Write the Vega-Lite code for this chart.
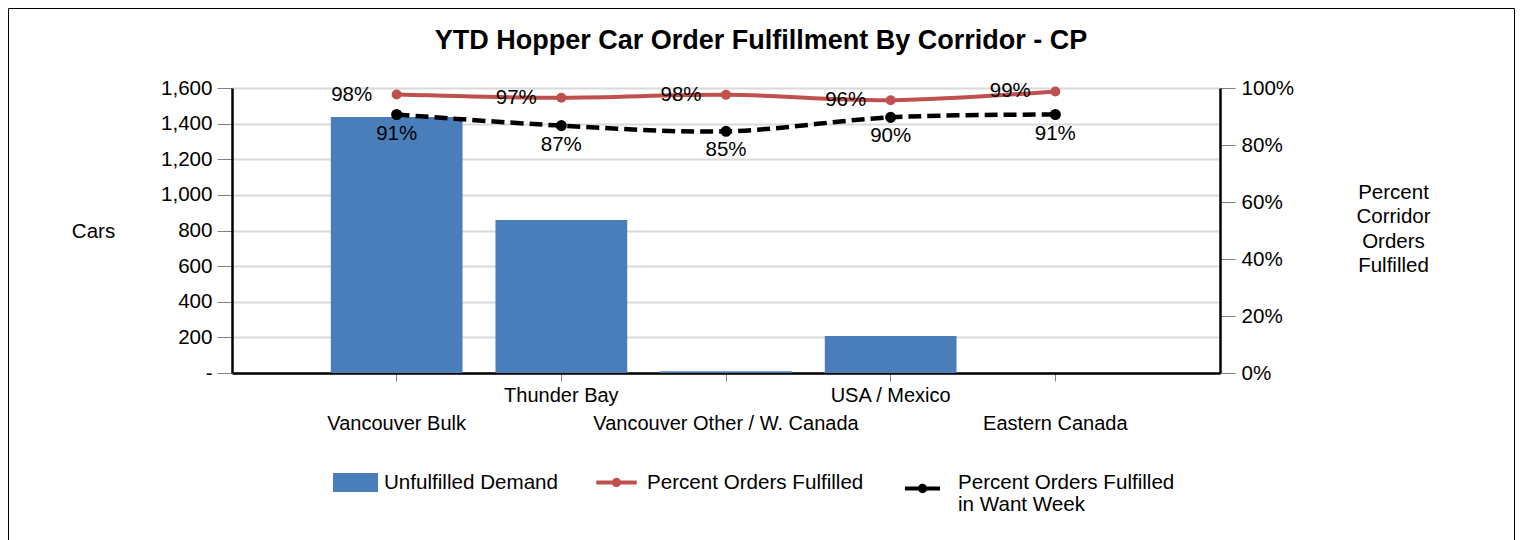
{
  "$schema": "https://vega.github.io/schema/vega-lite/v6.json",
  "width": 1506,
  "height": 532,
  "autosize": {"type": "none"},
  "padding": {"left": 8, "top": 8, "right": 13, "bottom": 0},
  "background": "white",
  "config": {
    "font": "Liberation Sans",
    "view": {"stroke": "black", "strokeWidth": 1}
  },
  "title": {
    "text": "YTD Hopper Car Order Fulfillment By Corridor - CP",
    "fontSize": 27,
    "fontWeight": "bold",
    "color": "black",
    "anchor": "middle",
    "frame": "group",
    "offset": -68,
    "baseline": "alphabetic"
  },
  "datasets": {
    "bars": [
      {"corridor": "Vancouver Bulk", "unfulfilled": 1437},
      {"corridor": "Thunder Bay", "unfulfilled": 859},
      {"corridor": "Vancouver Other / W. Canada", "unfulfilled": 10},
      {"corridor": "USA / Mexico", "unfulfilled": 208},
      {"corridor": "Eastern Canada", "unfulfilled": 0}
    ],
    "lines": [
      {"corridor": "Vancouver Bulk", "series": "Percent Orders Fulfilled", "value": 0.977},
      {"corridor": "Thunder Bay", "series": "Percent Orders Fulfilled", "value": 0.966},
      {"corridor": "Vancouver Other / W. Canada", "series": "Percent Orders Fulfilled", "value": 0.976},
      {"corridor": "USA / Mexico", "series": "Percent Orders Fulfilled", "value": 0.957},
      {"corridor": "Eastern Canada", "series": "Percent Orders Fulfilled", "value": 0.988},
      {"corridor": "Vancouver Bulk", "series": "Percent Orders Fulfilled in Want Week", "value": 0.907},
      {"corridor": "Thunder Bay", "series": "Percent Orders Fulfilled in Want Week", "value": 0.868},
      {"corridor": "Vancouver Other / W. Canada", "series": "Percent Orders Fulfilled in Want Week", "value": 0.848},
      {"corridor": "USA / Mexico", "series": "Percent Orders Fulfilled in Want Week", "value": 0.897},
      {"corridor": "Eastern Canada", "series": "Percent Orders Fulfilled in Want Week", "value": 0.907}
    ]
  },
  "encoding": {
    "x": {
      "field": "corridor",
      "type": "nominal",
      "scale": {
        "domain": ["Vancouver Bulk", "Thunder Bay", "Vancouver Other / W. Canada", "USA / Mexico", "Eastern Canada"],
        "range": [224, 1212],
        "paddingInner": 0.2,
        "paddingOuter": 0.6
      },
      "axis": {
        "title": null,
        "orient": "bottom",
        "offset": -167,
        "labelAngle": 0,
        "labelFontSize": 20,
        "labelColor": "black",
        "labelLimit": 500,
        "labelBaseline": "top",
        "labelLineHeight": 28,
        "labelPadding": 4,
        "labelExpr": "indexof(['Thunder Bay','USA / Mexico'], datum.value) >= 0 ? datum.label : ['', datum.label]",
        "tickSize": 8,
        "tickColor": "#808080",
        "tickWidth": 1,
        "domainColor": "black",
        "domainWidth": 2.5,
        "grid": false
      }
    }
  },
  "layer": [
    {
      "data": {"name": "bars"},
      "mark": {"type": "bar", "opacity": 1},
      "encoding": {
        "y": {
          "field": "unfulfilled",
          "type": "quantitative",
          "scale": {"domain": [0, 1600], "range": [365, 80], "nice": false, "zero": true},
          "axis": {
            "orient": "left",
            "offset": -224,
            "values": [0, 200, 400, 600, 800, 1000, 1200, 1400, 1600],
            "labelExpr": "datum.value == 0 ? '-' : format(datum.value, ',')",
            "labelFontSize": 20.6,
            "labelColor": "black",
            "labelPadding": 5,
            "tickSize": 15,
            "tickColor": "#808080",
            "tickWidth": 1,
            "domainColor": "black",
            "domainWidth": 2.5,
            "grid": true,
            "gridColor": "#d9d9d9",
            "gridWidth": 2,
            "title": "Cars",
            "titleFontSize": 20.5,
            "titleFontWeight": "normal",
            "titleColor": "black",
            "titleAngle": 0,
            "titleAlign": "center",
            "titleBaseline": "middle",
            "titleX": -139,
            "titleY": 223
          }
        },
        "color": {
          "datum": "Unfulfilled Demand",
          "type": "nominal",
          "scale": {"domain": ["Unfulfilled Demand"], "range": ["#4a7ebb"]},
          "legend": {
            "title": null,
            "orient": "none",
            "direction": "horizontal",
            "legendX": 325,
            "legendY": 452,
            "symbolType": "M-1,-0.42H1V0.42H-1Z",
            "symbolSize": 2025,
            "symbolStrokeWidth": 0,
            "labelFontSize": 20.6,
            "labelColor": "black",
            "labelOffset": 6,
            "labelLimit": 500
          }
        }
      }
    },
    {
      "data": {"name": "lines"},
      "encoding": {
        "y": {
          "field": "value",
          "type": "quantitative",
          "scale": {"domain": [0, 1], "range": [365, 80], "nice": false},
          "axis": {
            "orient": "right",
            "offset": -294,
            "values": [0, 0.2, 0.4, 0.6, 0.8, 1],
            "format": ".0%",
            "labelFontSize": 20.6,
            "labelColor": "black",
            "labelPadding": 6,
            "tickSize": 15,
            "tickColor": "#808080",
            "tickWidth": 1,
            "domainColor": "black",
            "domainWidth": 2.5,
            "grid": false,
            "title": ["Percent", "Corridor", "Orders", "Fulfilled"],
            "titleFontSize": 20.5,
            "titleFontWeight": "normal",
            "titleColor": "black",
            "titleAngle": 0,
            "titleAlign": "center",
            "titleBaseline": "middle",
            "titleLineHeight": 24.5,
            "titleX": 173,
            "titleY": 184
          }
        }
      },
      "layer": [
        {
          "transform": [{"filter": "datum.series == 'Percent Orders Fulfilled'"}],
          "mark": {"type": "line", "strokeWidth": 4, "interpolate": "catmull-rom"},
          "encoding": {
            "stroke": {
              "datum": "Percent Orders Fulfilled",
              "type": "nominal",
              "scale": {"domain": ["Percent Orders Fulfilled"], "range": ["#c0504d"]},
              "legend": {
                "title": null,
                "orient": "none",
                "direction": "horizontal",
                "legendX": 584,
                "legendY": 450,
                "symbolType": "M-0.9,0H0.9M0.12,0A0.12,0.12 0 1,1 -0.12,0A0.12,0.12 0 1,1 0.12,0",
                "symbolSize": 2025,
                "symbolStrokeWidth": 4,
                "labelFontSize": 20.6,
                "labelColor": "black",
                "labelOffset": 6,
                "labelLimit": 500
              }
            }
          }
        },
        {
          "transform": [{"filter": "datum.series == 'Percent Orders Fulfilled'"}],
          "mark": {"type": "point", "filled": true, "color": "#c0504d", "size": 100, "opacity": 1}
        },
        {
          "transform": [{"filter": "datum.series == 'Percent Orders Fulfilled'"}],
          "mark": {"type": "text", "fontSize": 20.5, "color": "black", "dx": -45, "dy": 0, "align": "center", "baseline": "middle"},
          "encoding": {"text": {"field": "value", "type": "quantitative", "format": ".0%"}}
        },
        {
          "transform": [{"filter": "datum.series == 'Percent Orders Fulfilled in Want Week'"}],
          "mark": {"type": "line", "color": "#000000", "strokeWidth": 4.5, "strokeDash": [13, 6], "interpolate": "catmull-rom"}
        },
        {
          "transform": [{"filter": "datum.series == 'Percent Orders Fulfilled in Want Week'"}],
          "mark": {"type": "point", "filled": true, "color": "#000000", "size": 50, "strokeWidth": 4, "opacity": 1},
          "encoding": {
            "stroke": {
              "datum": "Percent Orders Fulfilled in Want Week",
              "type": "nominal",
              "scale": {"domain": ["Percent Orders Fulfilled in Want Week"], "range": ["#000000"]},
              "legend": {
                "title": null,
                "orient": "none",
                "direction": "horizontal",
                "legendX": 890,
                "legendY": 456,
                "symbolType": "M-0.78,0H0.78M0.12,0A0.12,0.12 0 1,1 -0.12,0A0.12,0.12 0 1,1 0.12,0",
                "symbolSize": 2025,
                "symbolStrokeWidth": 4,
                "symbolOpacity": 1,
                "labelFontSize": 20.6,
                "labelColor": "black",
                "labelOffset": 11,
                "labelLimit": 500,
                "labelBaseline": "alphabetic",
                "labelExpr": "['Percent Orders Fulfilled', 'in Want Week']"
              }
            }
          }
        },
        {
          "transform": [{"filter": "datum.series == 'Percent Orders Fulfilled in Want Week'"}],
          "mark": {"type": "text", "fontSize": 20.5, "color": "black", "dx": 0, "dy": 19, "align": "center", "baseline": "middle"},
          "encoding": {"text": {"field": "value", "type": "quantitative", "format": ".0%"}}
        }
      ],
      "resolve": {"scale": {"stroke": "independent"}}
    }
  ],
  "resolve": {"scale": {"y": "independent"}}
}
